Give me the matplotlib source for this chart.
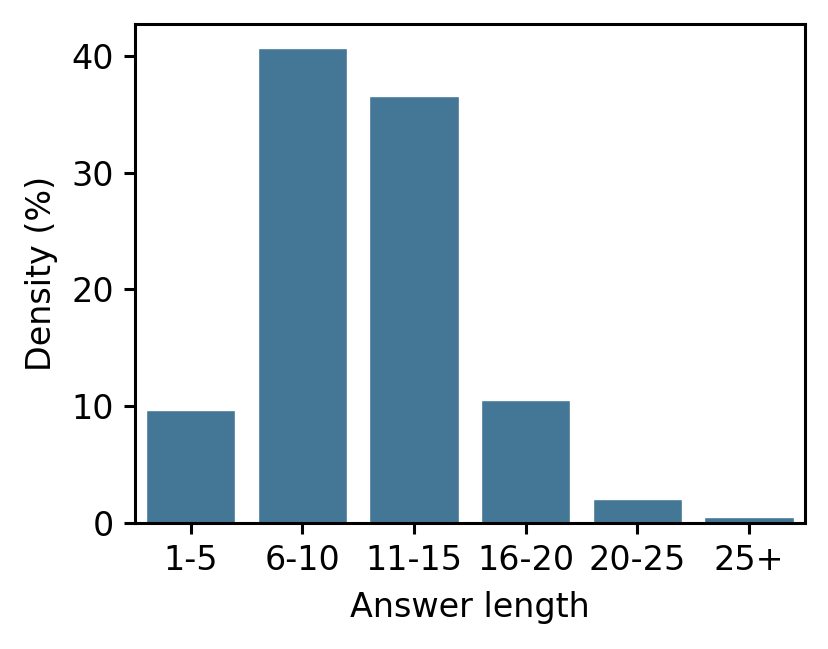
import numpy as np
import matplotlib.pyplot as plt

# Distribuicao do comprimento das respostas
categorias = ["1-5", "6-10", "11-15", "16-20", "20-25", "25+"]
densidade = [9.72, 40.7, 36.6, 10.5, 2.06, 0.51]

plt.rcParams["axes.linewidth"] = 1.1
plt.rcParams["xtick.major.width"] = 1.1
plt.rcParams["ytick.major.width"] = 1.1

fig = plt.figure(figsize=(4.145, 3.245), dpi=200)
ax = fig.add_axes([135 / 829, 1 - 523 / 649, 670 / 829, 499 / 649])

x = np.arange(len(categorias))
ax.bar(x, densidade, width=0.8, color="#447695", edgecolor="white", linewidth=0.5)
ax.set_xlim(-0.5, len(categorias) - 0.5)

ax.set_xticks(x)
ax.set_xticklabels(categorias)
ax.set_yticks([0, 10, 20, 30, 40])
ax.tick_params(labelsize=12, length=4)
ax.set_xlabel("Answer length", fontsize=12, labelpad=5)
ax.set_ylabel("Density (%)", fontsize=12, labelpad=5)

fig.savefig("out.png", dpi=200)
